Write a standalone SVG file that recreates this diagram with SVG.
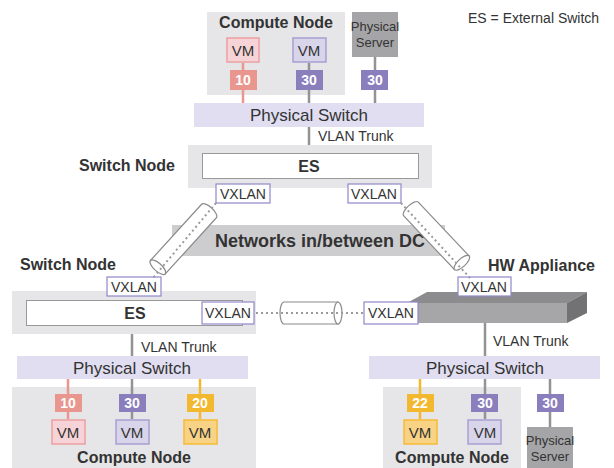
<svg xmlns="http://www.w3.org/2000/svg" width="614" height="468" viewBox="0 0 614 468">
<style>
text{font-family:"Liberation Sans",Arial,sans-serif;fill:#333}
.b{font-weight:bold}
.cn{font-weight:bold;font-size:16px;text-anchor:middle}
.node{fill:#e6e6e8}
.es{fill:#fff;stroke:#999;stroke-width:1}
.vx{fill:#fff;stroke:#9088c8;stroke-width:1.2}
.vxt{font-size:14px;text-anchor:middle}
.ps{fill:#e0def0}
.pst{font-size:17px;text-anchor:middle}
.srv{fill:#a5a5a7}
.srvt{font-size:13px;text-anchor:middle;fill:#333}
.tag{font-size:14px;font-weight:bold;fill:#fff;text-anchor:middle}
.vmt{font-size:15px;text-anchor:middle}
.vt{font-size:14px}
.pinkT{fill:#e8968e}.pinkV{fill:#f6d3d6;stroke:#eca0a0;stroke-width:1.5}
.purT{fill:#8a7fbc}.purV{fill:#d8d4ea;stroke:#a99fd2;stroke-width:1.5}
.yelT{fill:#f2b830}.yelV{fill:#f8d285;stroke:#f5bb36;stroke-width:1.5}
.lg{stroke:#939393;stroke-width:2.5}
.lp{stroke:#e8968e;stroke-width:2.5}
.ly{stroke:#f2b830;stroke-width:2.5}
.dot{stroke:#9a9a9a;stroke-width:2;stroke-dasharray:2 3;fill:none}
.tube{fill:#fff;stroke:#8a8a8a;stroke-width:1.2}
.ctr{text-anchor:middle}
</style>
<defs>
<g id="tube76">
<path class="tube" d="M0,-10 H76 V10 H0 A4,10 0 0 1 0,-10 Z"/>
<ellipse class="tube" cx="76" cy="0" rx="4" ry="10"/>
</g>
<g id="tube74">
<path class="tube" d="M0,-10 H74 V10 H0 A4,10 0 0 1 0,-10 Z"/>
<ellipse class="tube" cx="74" cy="0" rx="4" ry="10"/>
</g>
</defs>

<text x="468" y="23" font-size="14">ES = External Switch</text>

<!-- network band -->
<g id="network">
<rect x="172" y="225" width="273" height="31" fill="#cdcdcf"/>
<text x="320" y="247" class="b ctr" font-size="18">Networks in/between DC</text>
</g>

<!-- top compute node -->
<g id="compute-top">
<rect class="node" x="207" y="12" width="138" height="83"/>
<text x="276" y="28" class="cn">Compute Node</text>
<rect class="pinkV" x="227" y="38" width="32" height="24"/>
<text x="243" y="56" class="vmt">VM</text>
<rect class="purV" x="293" y="38" width="33" height="24"/>
<text x="309" y="56" class="vmt">VM</text>
<rect class="pinkT" x="230" y="70" width="27" height="20"/>
<text x="243" y="85" class="tag">10</text>
<rect class="purT" x="296" y="70" width="27" height="20"/>
<text x="309" y="85" class="tag">30</text>
</g>
<g id="server-top">
<rect class="srv" x="352" y="12" width="46" height="45"/>
<text x="375" y="31" class="srvt">Physical</text>
<text x="375" y="47" class="srvt">Server</text>
<rect class="purT" x="361" y="70" width="27" height="20"/>
<text x="375" y="85" class="tag">30</text>
</g>
<g id="switch-top">
<rect class="ps" x="194" y="103" width="230" height="24"/>
<text x="309" y="121" class="pst">Physical Switch</text>
</g>

<!-- switch node top -->
<g id="switchnode-top">
<text x="79" y="171" class="b" font-size="16">Switch Node</text>
<rect class="node" x="188" y="145" width="244" height="43"/>
<rect class="es" x="202.5" y="153.5" width="216" height="25"/>
<text x="309" y="172" class="b ctr" font-size="16">ES</text>
<rect class="vx" x="216" y="184" width="54" height="19"/>
<text x="243" y="199" class="vxt">VXLAN</text>
<rect class="vx" x="348" y="184" width="53" height="19"/>
<text x="374" y="199" class="vxt">VXLAN</text>
</g>

<!-- switch node bottom-left -->
<g id="switchnode-left">
<text x="20" y="270" class="b" font-size="16">Switch Node</text>
<rect class="node" x="12" y="291" width="244" height="43"/>
<rect class="es" x="26.5" y="300.5" width="216" height="25"/>
<text x="135" y="319" class="b ctr" font-size="16">ES</text>
<rect class="vx" x="107" y="277" width="54" height="19"/>
<text x="134" y="292" class="vxt">VXLAN</text>
<rect class="vx" x="202" y="302" width="52" height="22"/>
<text x="228" y="318" class="vxt">VXLAN</text>
</g>

<!-- HW appliance -->
<g id="hw-appliance">
<text x="488" y="271" class="b" font-size="16">HW Appliance</text>
<polygon points="407,303 427,292 587,292 567,303" fill="#8c8c8e"/>
<polygon points="567,303 587,292 587,313 567,323" fill="#727274"/>
<rect x="407" y="303" width="160" height="20" fill="#a6a6a8"/>
<rect class="vx" x="458" y="277" width="53" height="19"/>
<text x="484" y="292" class="vxt">VXLAN</text>
<rect class="vx" x="364" y="302" width="54" height="22"/>
<text x="391" y="318" class="vxt">VXLAN</text>
</g>

<!-- bottom-left -->
<g id="switch-left">
<rect class="ps" x="17" y="356" width="231" height="23"/>
<text x="132" y="374" class="pst">Physical Switch</text>
</g>
<g id="compute-left">
<rect class="node" x="12" y="387" width="244" height="81"/>
<rect class="pinkT" x="55" y="394" width="27" height="18"/>
<text x="68" y="408" class="tag">10</text>
<rect class="purT" x="119" y="394" width="27" height="18"/>
<text x="132" y="408" class="tag">30</text>
<rect class="yelT" x="187" y="394" width="27" height="18"/>
<text x="200" y="408" class="tag">20</text>
<rect class="pinkV" x="52" y="420" width="33" height="24"/>
<text x="68" y="438" class="vmt">VM</text>
<rect class="purV" x="116" y="420" width="33" height="24"/>
<text x="132" y="438" class="vmt">VM</text>
<rect class="yelV" x="184" y="420" width="33" height="24"/>
<text x="200" y="438" class="vmt">VM</text>
<text x="134" y="463" class="cn">Compute Node</text>
</g>

<!-- bottom-right -->
<g id="switch-right">
<rect class="ps" x="369" y="356" width="231" height="23"/>
<text x="485" y="374" class="pst">Physical Switch</text>
</g>
<g id="compute-right">
<rect class="node" x="383" y="387" width="138" height="81"/>
<rect class="yelT" x="407" y="394" width="27" height="18"/>
<text x="420" y="408" class="tag">22</text>
<rect class="purT" x="471" y="394" width="27" height="18"/>
<text x="485" y="408" class="tag">30</text>
<rect class="yelV" x="404" y="420" width="33" height="24"/>
<text x="420" y="438" class="vmt">VM</text>
<rect class="purV" x="468" y="420" width="33" height="24"/>
<text x="485" y="438" class="vmt">VM</text>
<text x="452" y="463" class="cn">Compute Node</text>
</g>
<g id="server-right">
<rect class="purT" x="537" y="394" width="27" height="18"/>
<text x="550" y="408" class="tag">30</text>
<rect class="srv" x="527" y="427" width="46" height="41"/>
<text x="550" y="445" class="srvt">Physical</text>
<text x="550" y="461" class="srvt">Server</text>
</g>

<!-- connectors -->
<g id="connectors">
<line class="lp" x1="243" y1="63" x2="243" y2="70"/>
<line class="lp" x1="243" y1="90" x2="243" y2="103"/>
<line class="lg" x1="309" y1="63" x2="309" y2="70"/>
<line class="lg" x1="309" y1="90" x2="309" y2="103"/>
<line class="lg" x1="375" y1="57" x2="375" y2="70"/>
<line class="lg" x1="375" y1="90" x2="375" y2="103"/>
<line class="lg" x1="309" y1="127" x2="309" y2="145"/>
<line class="lg" x1="132" y1="334" x2="132" y2="356"/>
<line class="lg" x1="485" y1="323" x2="485" y2="356"/>
<line class="lp" x1="68" y1="379" x2="68" y2="394"/>
<line class="lp" x1="68" y1="412" x2="68" y2="419"/>
<line class="lg" x1="132" y1="379" x2="132" y2="394"/>
<line class="lg" x1="132" y1="412" x2="132" y2="419"/>
<line class="ly" x1="200" y1="379" x2="200" y2="394"/>
<line class="ly" x1="200" y1="412" x2="200" y2="419"/>
<line class="ly" x1="420" y1="379" x2="420" y2="394"/>
<line class="ly" x1="420" y1="412" x2="420" y2="419"/>
<line class="lg" x1="485" y1="379" x2="485" y2="394"/>
<line class="lg" x1="485" y1="412" x2="485" y2="419"/>
<line class="lg" x1="550" y1="379" x2="550" y2="394"/>
<line class="lg" x1="550" y1="412" x2="550" y2="427"/>
<text x="318" y="141" class="vt">VLAN Trunk</text>
<text x="141" y="352" class="vt">VLAN Trunk</text>
<text x="493" y="346" class="vt">VLAN Trunk</text>
<g transform="translate(209,211) rotate(132.3)"><use href="#tube76"/></g>
<g transform="translate(411,209) rotate(46.6)"><use href="#tube74"/></g>
<g transform="translate(284,313)"><path class="tube" d="M0,-11 H54 V11 H0 A4,11 0 0 1 0,-11 Z"/><ellipse class="tube" cx="54" cy="0" rx="4" ry="11"/></g>
<line class="dot" x1="216" y1="203" x2="153" y2="278"/>
<line class="dot" x1="401" y1="203" x2="470" y2="278"/>
<line class="dot" x1="256" y1="313" x2="364" y2="313"/>
</g>
</svg>
